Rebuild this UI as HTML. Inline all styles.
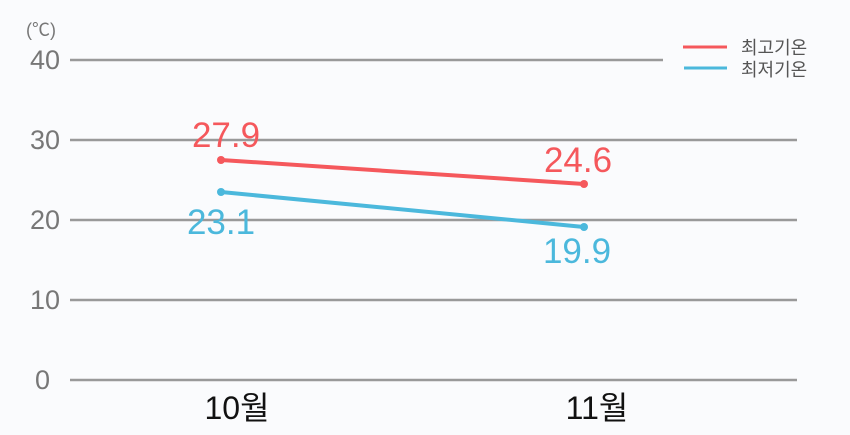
<!DOCTYPE html>
<html><head><meta charset="utf-8"><style>
body{margin:0;background:#fafbfd;}
svg{display:block;font-family:"Liberation Sans","Noto Sans CJK KR",sans-serif;}
</style></head><body>
<svg width="850" height="435" viewBox="0 0 850 435">
<rect width="850" height="435" fill="#fafbfd"/>
<g stroke="#999" stroke-width="2.5">
<line x1="70" y1="60" x2="663" y2="60"/>
<line x1="70" y1="140" x2="797" y2="140"/>
<line x1="70" y1="220" x2="797" y2="220"/>
<line x1="70" y1="300" x2="797" y2="300"/>
<line x1="70" y1="380" x2="797" y2="380"/>
</g>
<g fill="#777" font-size="27" text-anchor="end">
<text x="60" y="69">40</text>
<text x="60" y="149">30</text>
<text x="60" y="229">20</text>
<text x="60" y="309">10</text>
<text x="50" y="389">0</text>
</g>
<text x="26" y="36" font-size="18" fill="#777">(℃)</text>
<line x1="221" y1="160" x2="584" y2="184" stroke="#f5585c" stroke-width="4"/>
<circle cx="221" cy="160" r="4" fill="#f5585c"/><circle cx="584" cy="184" r="4" fill="#f5585c"/>
<line x1="221" y1="192" x2="584" y2="227" stroke="#4bb8dc" stroke-width="4"/>
<circle cx="221" cy="192" r="4" fill="#4bb8dc"/><circle cx="584" cy="227" r="4" fill="#4bb8dc"/>
<g font-size="35" text-anchor="middle">
<text x="226" y="147" fill="#f5585c">27.9</text>
<text x="578" y="172" fill="#f5585c">24.6</text>
<text x="221" y="234" fill="#4bb8dc">23.1</text>
<text x="577" y="263" fill="#4bb8dc">19.9</text>
</g>
<g font-size="32" text-anchor="middle" fill="#111">
<text x="237" y="419">10월</text>
<text x="597" y="419">11월</text>
</g>
<line x1="683" y1="47" x2="727" y2="47" stroke="#f5585c" stroke-width="3"/>
<line x1="684" y1="68" x2="727" y2="68" stroke="#4bb8dc" stroke-width="3"/>
<g font-size="18" fill="#555">
<text x="741" y="54">최고기온</text>
<text x="741" y="76">최저기온</text>
</g>
</svg>
</body></html>
